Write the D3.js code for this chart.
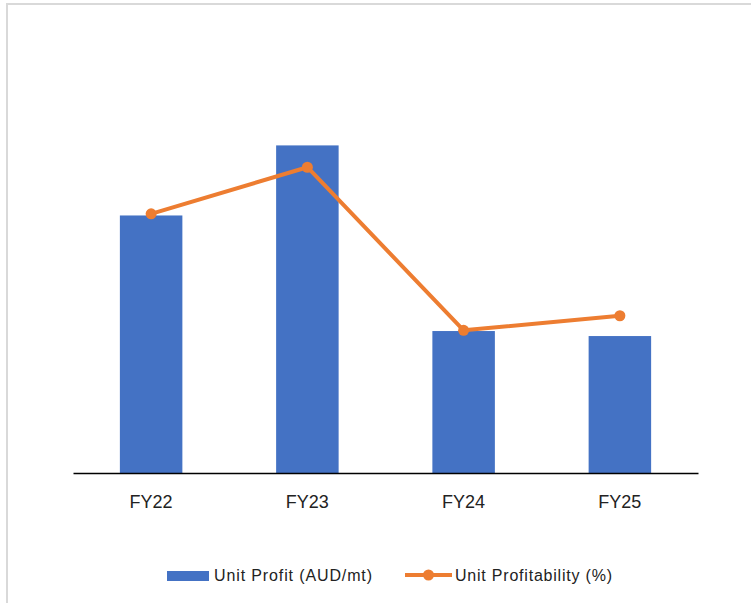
<!DOCTYPE html>
<html>
<head>
<meta charset="utf-8">
<script src="https://cdn.jsdelivr.net/npm/d3@7"></script>
<style>
  html, body { margin: 0; padding: 0; background: #ffffff; }
  svg { display: block; }
</style>
</head>
<body>
<svg id="chart" width="751" height="603"></svg>
<script>
// Fiscal years shown on the x axis
const categories = ["FY22", "FY23", "FY24", "FY25"];
// Unit profit per metric tonne (AUD/mt), drawn as bars
const unitProfit = [56.6, 72.0, 31.2, 30.1];
// Unit profitability (%), drawn as a line on its own scale
const unitProfitability = [17.8, 21.0, 9.8, 10.8];
// Legend entries
const seriesNames = ["Unit Profit (AUD/mt)", "Unit Profitability (%)"];

const BLUE = "#4472C4";
const ORANGE = "#ED7D31";
const FONT = "'Liberation Sans', Arial, sans-serif";

const svg = d3.select("#chart");

// Chart-area frame (top and left edges)
svg.append("path")
  .attr("d", "M7,603 V4 H751")
  .attr("fill", "none")
  .attr("stroke", "#d9d9d9")
  .attr("stroke-width", 2);

const plot = { left: 73, right: 698, top: 109, bottom: 473 };

const x = d3.scaleBand()
  .domain(categories)
  .range([plot.left, plot.right])
  .paddingInner(0.6)
  .paddingOuter(0.3);

const yBar = d3.scaleLinear().domain([0, 80]).range([plot.bottom, plot.top]);
const yLine = d3.scaleLinear().domain([0, 25]).range([plot.bottom, plot.top]);

// Bars
svg.append("g")
  .selectAll("rect")
  .data(categories)
  .join("rect")
  .attr("x", d => x(d))
  .attr("width", x.bandwidth())
  .attr("y", (d, i) => yBar(unitProfit[i]))
  .attr("height", (d, i) => yBar(0) - yBar(unitProfit[i]))
  .attr("fill", BLUE);

// Category axis
const xAxis = svg.append("g")
  .attr("transform", `translate(0,${plot.bottom})`)
  .call(d3.axisBottom(x).tickSize(0).tickPadding(22));
xAxis.select(".domain")
  .attr("stroke", "#000")
  .attr("stroke-width", 1.5);
xAxis.selectAll("text")
  .attr("font-family", FONT)
  .attr("font-size", 18)
  .attr("fill", "#222");

// Profitability line
const cx = (d, i) => x(categories[i]) + x.bandwidth() / 2;
const line = d3.line()
  .x((d, i) => cx(d, i))
  .y(d => yLine(d));

svg.append("path")
  .datum(unitProfitability)
  .attr("d", line)
  .attr("fill", "none")
  .attr("stroke", ORANGE)
  .attr("stroke-width", 4)
  .attr("stroke-linejoin", "round");

svg.append("g")
  .selectAll("circle")
  .data(unitProfitability)
  .join("circle")
  .attr("cx", cx)
  .attr("cy", d => yLine(d))
  .attr("r", 5.5)
  .attr("fill", ORANGE);

// Legend
const legend = svg.append("g").attr("font-family", FONT).attr("font-size", 16).attr("fill", "#222");
legend.append("rect")
  .attr("x", 167).attr("y", 571).attr("width", 42).attr("height", 10)
  .attr("fill", BLUE);
legend.append("text")
  .attr("x", 214).attr("y", 581)
  .attr("textLength", 158)
  .text(seriesNames[0]);

legend.append("line")
  .attr("x1", 405).attr("x2", 452).attr("y1", 575).attr("y2", 575)
  .attr("stroke", ORANGE).attr("stroke-width", 4);
legend.append("circle")
  .attr("cx", 428.5).attr("cy", 575).attr("r", 5.5)
  .attr("fill", ORANGE);
legend.append("text")
  .attr("x", 455).attr("y", 581)
  .attr("textLength", 157)
  .text(seriesNames[1]);
</script>
</body>
</html>
